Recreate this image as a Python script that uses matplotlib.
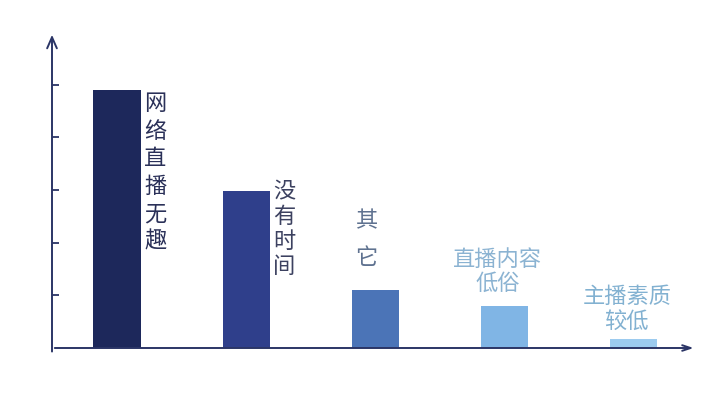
import matplotlib
matplotlib.use("Agg")
import matplotlib.pyplot as plt

plt.rcParams['font.family'] = ['Noto Sans CJK SC', 'DejaVu Sans']

categories = ["网络直播无趣", "没有时间", "其它", "直播内容低俗", "主播素质较低"]
values = [4.89, 2.98, 1.10, 0.80, 0.17]
labels = ["网\n络\n直\n播\n无\n趣", "没\n有\n时\n间", "其\n它", "直播内容\n低俗", "主播素质\n较低"]
bar_colors = ["#1d285b", "#2f3f8b", "#4b74b7", "#80b5e5", "#9ccbef"]
text_colors = ["#2a3058", "#3c4160", "#5f7290", "#8bb3d2", "#82b1d1"]
yticks = [1, 2, 3, 4, 5]

fig = plt.figure(figsize=(7.27, 4.0), dpi=100)
ax = fig.add_axes([52/727, 52/400, (690-52)/727, (348-32)/400])
x = list(range(len(categories)))
ax.bar(x, values, width=0.365, color=bar_colors, zorder=2)
ax.set_xlim(-0.504, 4.44)
ax.set_ylim(0, 6.0)

for s in ax.spines.values():
    s.set_visible(False)
ax.set_xticks([])
ax.set_yticks(yticks)
ax.set_yticklabels([])
ax.tick_params(axis='y', direction='in', length=5, width=1.3, color="#2b3566", left=True)

line_c = "#2b3566"
ax.annotate('', xy=(0, 1.0), xycoords='axes fraction', xytext=(0, -0.02),
            arrowprops=dict(arrowstyle='->,head_length=0.8,head_width=0.35', color=line_c, lw=1.4))
ax.annotate('', xy=(1.01, 0), xycoords='axes fraction', xytext=(0, 0),
            arrowprops=dict(arrowstyle='->,head_length=0.6,head_width=0.2', color=line_c, lw=1.4))

fs = 16
ax.text(x[0] + 0.21, values[0] - 0.03, labels[0], color=text_colors[0], fontsize=fs,
        ha='left', va='top', linespacing=1.25, fontweight='light')
ax.text(x[1] + 0.21, values[1] + 0.2, labels[1], color=text_colors[1], fontsize=fs,
        ha='left', va='top', linespacing=1.1, fontweight='light')
ax.text(x[2] - 0.07, values[2] + 0.4, labels[2], color=text_colors[2], fontsize=fs,
        ha='center', va='bottom', linespacing=1.75, fontweight='light')
ax.text(x[3] - 0.05, values[3] + 0.2, labels[3], color=text_colors[3], fontsize=fs,
        ha='center', va='bottom', linespacing=1.1, multialignment='center', fontweight='light')
ax.text(x[4] - 0.05, values[4] + 0.12, labels[4], color=text_colors[4], fontsize=fs,
        ha='center', va='bottom', linespacing=1.1, multialignment='center', fontweight='light')

fig.savefig("out.png", dpi=100, facecolor='white')
